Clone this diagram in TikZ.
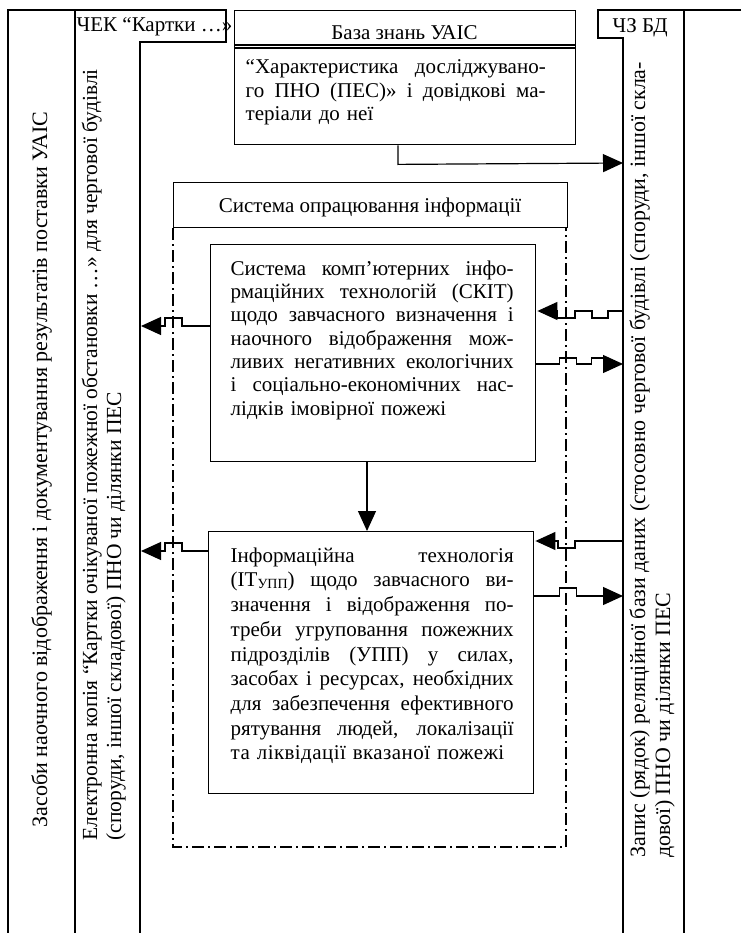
\documentclass[tikz,border=0pt]{standalone}
\usepackage{fontspec}
\setmainfont{Liberation Serif}
\usetikzlibrary{arrows.meta,calc}
\newcommand{\jla}[1]{\leavevmode\hbox to 283pt{\spaceskip=0.25em plus 1fil\xspaceskip=\spaceskip #1}}
\newcommand{\jlk}[1]{\leavevmode\hbox to 300pt{\spaceskip=0.25em plus 1fil\xspaceskip=\spaceskip #1}}
\newcommand{\upp}{\raisebox{-1.5pt}{\fontsize{14}{14}\selectfont УПП}}
\begin{document}
\begin{tikzpicture}[x=1pt,y=-1pt,
  line width=1.4pt,
  tri/.style={line width=1.2pt,-{Triangle[length=20pt,width=18pt]}},
  box/.style={draw,line width=1.4pt,inner sep=0pt,anchor=north west},
  dd/.style={line width=1.2pt,dash pattern=on 12pt off 4pt on 2pt off 4pt},
  lbl/.style={inner sep=0pt,font=\fontsize{21}{23.5}\selectfont},
  rot/.style={inner sep=0pt,rotate=90,anchor=base west,font=\fontsize{21.9}{24}\selectfont},
  para/.style={inner sep=0pt,anchor=north west,text width=283pt,align=left}
]
\useasboundingbox (0,0) rectangle (741,933);

% columns
\draw (8,933) -- (8,10) -- (75,10) -- (75,933);
\draw (75,10) -- (226,10) -- (226,42) -- (140,42) -- (140,933);
\draw (741,10) -- (598,10) -- (598,38) -- (623,38) -- (623,933);
\draw (684,10) -- (684,933);
\coordinate (lin) at (141,0);
\coordinate (rin) at (623,0);

\node[lbl,anchor=base west] (chek) at (76,32) {ЧЕК “Картки …»};
\node[lbl,anchor=base west] (chz) at (612,33) {ЧЗ БД};

% rotated column texts
\node[rot,font=\fontsize{22}{24}\selectfont] (c1) at (47,828)
  {Засоби наочного відображення і документування результатів поставки УАІС};
\node[rot,font=\fontsize{21.5}{24}\selectfont] (c2a) at (97,841)
  {Електронна копія “Картки очікуваної пожежної обстановки …» для чергової будівлі};
\node[rot,font=\fontsize{21.5}{24}\selectfont] (c2b) at (121,841)
  {(споруди, іншої складової) ПНО чи ділянки ПЕС};
\node[rot] (r1a) at (645,858)
  {Запис (рядок) реляційної бази даних (стосовно чергової будівлі (споруди, іншої скла-};
\node[rot] (r1b) at (670,858)
  {дової) ПНО чи ділянки ПЕС};

% knowledge base
\node[box,minimum width=341pt,minimum height=134pt] (kb) at (234,10) {};
\draw[line width=1.2pt] ($(kb.north west)+(0,35)$) -- ($(kb.north east)+(0,35)$);
\draw[line width=1.2pt] ($(kb.north west)+(0,38)$) -- ($(kb.north east)+(0,38)$);
\node[lbl,anchor=base] (kbt) at (404.5,40) {База знань УАІС};
\node[lbl,para,text width=305pt,font=\fontsize{21}{23.5}\selectfont] (kbb) at (245,59)
  {\jlk{“Характеристика досліджувано-}\\
   \jlk{го ПНО (ПЕС)» і довідкові ма-}\\
   теріали до неї};

% processing system
\node[box,minimum width=394pt,minimum height=45pt] (so) at (173,182) {};
\node[lbl,anchor=base] (sot) at (370,213) {Система опрацювання інформації};
\draw[dd] (so.south west) -- (173,847) -- (566,847) -- (566,227);

% box 1
\node[box,minimum width=325pt,minimum height=217pt] (b1) at (210,244) {};
\node[lbl,para,font=\fontsize{21}{23.3}\selectfont] (b1t) at (230,260)
  {\jla{Система комп’ютерних інфо-}\\
   \jla{рмаційних технологій (СКІТ)}\\
   \jla{щодо завчасного визначення і}\\
   \jla{наочного відображення мож-}\\
   \jla{ливих негативних екологічних}\\
   \jla{і соціально-економічних нас-}\\
   лідків імовірної пожежі};

% box 2
\node[box,minimum width=325pt,minimum height=262pt] (b2) at (208,531) {};
\node[lbl,para,font=\fontsize{21}{24.7}\selectfont] (b2t) at (230,547)
  {\jla{Інформаційна технологія}\\
   \jla{(ІТ\upp) щодо завчасного ви-}\\
   \jla{значення і відображення по-}\\
   \jla{треби угруповання пожежних}\\
   \jla{підрозділів (УПП) у силах,}\\
   \jla{засобах і ресурсах, необхідних}\\
   \jla{для забезпечення ефективного}\\
   \jla{рятування людей, локалізації}\\
   \leavevmode\hbox{\addfontfeature{LetterSpace=2.0}та ліквідації вказаної пожежі}};

% connectors
\draw[tri] ($(kb.south west)+(164,0)$) -- ++(0,19) -- (rin |- 0,163);
\draw[tri] ($(b1.north west)+(0,82)$) -- ++(-28,0) -- ++(0,-8) -- ++(-17,0) -- ++(0,8) -- (lin |- 0,326);
\draw[tri] ($(b2.north west)+(0,20)$) -- ++(-26,0) -- ++(0,-8) -- ++(-17,0) -- ++(0,8) -- (lin |- 0,551);
\draw[tri] (rin |- 0,311) -- ++(-15,0) -- ++(0,7) -- ++(-16,0) -- ++(0,-7) -- ++(-17,0) -- ++(0,7) -- ++(-18,0) -- ++(0,-7) -- ($(b1.north east)+(1,67)$);
\draw[tri] ($(b1.north east)+(0,120)$) -- ++(23,0) -- ++(0,-6) -- ++(17,0) -- ++(0,6) -- ++(15,0) -- ++(0,-6) -- ++(13,0) -- ++(0,6) -- (rin |- 0,364);
\draw[tri] (rin |- 0,541) -- ++(-48,0) -- ++(0,7) -- ++(-17,0) -- ++(0,-7) -- ($(b2.north east)+(1,10)$);
\draw[tri] ($(b2.north east)+(0,65)$) -- ++(25,0) -- ++(0,-8) -- ++(17,0) -- ++(0,8) -- (rin |- 0,596);
\draw[tri] ($(b1.south west)+(157,0)$) -- ($(b2.north west)+(159,0)$);
\end{tikzpicture}
\end{document}
